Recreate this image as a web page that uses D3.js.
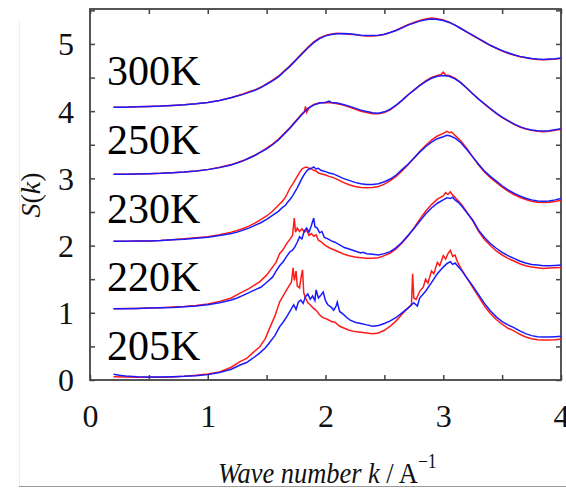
<!DOCTYPE html>
<html>
<head>
<meta charset="utf-8">
<script src="https://cdn.jsdelivr.net/npm/d3@7"></script>
<style>
    html, body { margin: 0; padding: 0; background: #fff; }
    svg { display: block; }
    svg text { font-family: "Liberation Serif", "Times New Roman", "DejaVu Serif", serif; }
    .tick text { font-size: 32px; fill: #111; }
    .tick line { stroke: #444; stroke-width: 1.5; }
</style>
</head>
<body>
<svg class="main" width="566" height="488"></svg>
<script>
const xTicks = [0, 0.5, 1, 1.5, 2, 2.5, 3, 3.5, 4],
    yTicks = [0, 0.5, 1, 1.5, 2, 2.5, 3, 3.5, 4, 4.5, 5, 5.5],
    temperatures = ['300K', '250K', '230K', '220K', '205K'];

// [k, S(k)] as plotted, each curve already shifted up by its offset
const s300Red = [[0.2,4.06],[0.3,4.06],[0.4,4.065],[0.5,4.07],[0.6,4.075],[0.7,4.085],[0.8,4.095],[0.9,4.11],[1.0,4.13],[1.1,4.16],[1.2,4.205],[1.3,4.255],[1.35,4.29],[1.4,4.315],[1.45,4.355],[1.5,4.405],[1.55,4.46],[1.6,4.52],[1.65,4.6],[1.7,4.68],[1.75,4.77],[1.8,4.86],[1.85,4.95],[1.9,5.03],[1.95,5.09],[2.0,5.125],[2.05,5.15],[2.1,5.16],[2.15,5.15],[2.2,5.145],[2.25,5.14],[2.3,5.125],[2.35,5.12],[2.4,5.12],[2.45,5.125],[2.5,5.14],[2.55,5.17],[2.6,5.205],[2.65,5.245],[2.7,5.285],[2.75,5.32],[2.8,5.35],[2.85,5.37],[2.9,5.385],[2.95,5.375],[3.0,5.355],[3.05,5.325],[3.1,5.28],[3.15,5.23],[3.2,5.175],[3.25,5.125],[3.3,5.075],[3.35,5.025],[3.4,4.975],[3.45,4.935],[3.5,4.895],[3.55,4.86],[3.6,4.835],[3.65,4.81],[3.7,4.795],[3.75,4.78],[3.8,4.77],[3.85,4.765],[3.9,4.77],[3.95,4.775],[4.0,4.785]];
const s300Blue = [[0.2,4.06],[0.3,4.06],[0.4,4.065],[0.5,4.07],[0.6,4.075],[0.7,4.085],[0.8,4.095],[0.9,4.11],[1.0,4.13],[1.1,4.16],[1.2,4.2],[1.3,4.25],[1.35,4.28],[1.4,4.31],[1.45,4.35],[1.5,4.4],[1.55,4.45],[1.6,4.51],[1.65,4.59],[1.7,4.67],[1.75,4.76],[1.8,4.85],[1.85,4.94],[1.9,5.02],[1.95,5.08],[2.0,5.12],[2.05,5.14],[2.1,5.15],[2.15,5.155],[2.2,5.15],[2.25,5.14],[2.3,5.13],[2.35,5.125],[2.4,5.125],[2.45,5.13],[2.5,5.145],[2.55,5.17],[2.6,5.2],[2.65,5.24],[2.7,5.28],[2.75,5.31],[2.8,5.34],[2.85,5.36],[2.9,5.37],[2.95,5.365],[3.0,5.35],[3.05,5.32],[3.1,5.28],[3.15,5.23],[3.2,5.18],[3.25,5.13],[3.3,5.08],[3.35,5.03],[3.4,4.98],[3.45,4.94],[3.5,4.9],[3.55,4.87],[3.6,4.84],[3.65,4.815],[3.7,4.8],[3.75,4.785],[3.8,4.775],[3.85,4.77],[3.9,4.775],[3.95,4.78],[4.0,4.79]];

const s250Red = [[0.2,3.06],[0.3,3.06],[0.4,3.065],[0.5,3.07],[0.6,3.075],[0.7,3.085],[0.8,3.095],[0.9,3.11],[1.0,3.13],[1.1,3.165],[1.2,3.205],[1.3,3.265],[1.35,3.305],[1.4,3.345],[1.45,3.395],[1.5,3.45],[1.55,3.51],[1.6,3.58],[1.65,3.67],[1.7,3.76],[1.75,3.86],[1.8,3.96],[1.82,3.99],[1.83,4.07],[1.84,3.98],[1.86,4.05],[1.9,4.1],[1.95,4.125],[2.0,4.13],[2.05,4.125],[2.1,4.11],[2.15,4.09],[2.2,4.06],[2.25,4.03],[2.3,4.0],[2.35,3.98],[2.4,3.96],[2.45,3.96],[2.5,3.98],[2.55,4.02],[2.6,4.085],[2.65,4.16],[2.7,4.24],[2.75,4.315],[2.8,4.385],[2.85,4.45],[2.9,4.5],[2.95,4.53],[2.98,4.545],[3.0,4.58],[3.02,4.54],[3.05,4.53],[3.1,4.49],[3.15,4.425],[3.2,4.345],[3.25,4.26],[3.3,4.18],[3.35,4.105],[3.4,4.035],[3.45,3.965],[3.5,3.905],[3.55,3.855],[3.6,3.805],[3.65,3.765],[3.7,3.735],[3.75,3.715],[3.8,3.7],[3.85,3.695],[3.9,3.7],[3.95,3.715],[4.0,3.73]];
const s250Blue = [[0.2,3.06],[0.3,3.06],[0.4,3.065],[0.5,3.07],[0.6,3.075],[0.7,3.085],[0.8,3.095],[0.9,3.11],[1.0,3.13],[1.1,3.16],[1.2,3.2],[1.3,3.26],[1.35,3.3],[1.4,3.34],[1.45,3.39],[1.5,3.44],[1.55,3.5],[1.6,3.57],[1.65,3.66],[1.7,3.75],[1.75,3.85],[1.8,3.95],[1.85,4.04],[1.9,4.09],[1.95,4.12],[2.0,4.13],[2.03,4.15],[2.05,4.13],[2.1,4.12],[2.15,4.1],[2.2,4.075],[2.25,4.045],[2.3,4.015],[2.35,3.995],[2.4,3.975],[2.45,3.97],[2.5,3.99],[2.55,4.03],[2.6,4.09],[2.65,4.16],[2.7,4.24],[2.75,4.31],[2.8,4.38],[2.85,4.44],[2.9,4.49],[2.95,4.52],[3.0,4.53],[3.05,4.52],[3.1,4.48],[3.15,4.42],[3.2,4.34],[3.25,4.26],[3.3,4.18],[3.35,4.11],[3.4,4.04],[3.45,3.97],[3.5,3.91],[3.55,3.86],[3.6,3.81],[3.65,3.77],[3.7,3.74],[3.75,3.72],[3.8,3.71],[3.85,3.705],[3.9,3.71],[3.95,3.725],[4.0,3.74]];

const s230Red = [[0.2,2.065],[0.3,2.065],[0.4,2.07],[0.5,2.07],[0.6,2.075],[0.7,2.085],[0.8,2.1],[0.9,2.115],[1.0,2.13],[1.1,2.16],[1.2,2.2],[1.25,2.225],[1.3,2.255],[1.35,2.29],[1.4,2.335],[1.45,2.385],[1.5,2.44],[1.55,2.51],[1.6,2.6],[1.63,2.65],[1.66,2.72],[1.68,2.79],[1.7,2.86],[1.72,2.91],[1.74,2.97],[1.76,3.03],[1.78,3.09],[1.8,3.14],[1.82,3.16],[1.84,3.17],[1.86,3.15],[1.88,3.14],[1.9,3.12],[1.92,3.11],[1.94,3.08],[1.96,3.07],[1.98,3.06],[2.0,3.05],[2.03,3.03],[2.06,3.015],[2.1,2.985],[2.15,2.94],[2.2,2.905],[2.25,2.88],[2.3,2.865],[2.35,2.86],[2.4,2.865],[2.45,2.88],[2.5,2.915],[2.55,2.965],[2.6,3.03],[2.65,3.11],[2.7,3.2],[2.75,3.3],[2.8,3.4],[2.85,3.49],[2.9,3.57],[2.95,3.63],[3.0,3.67],[3.03,3.7],[3.05,3.68],[3.07,3.69],[3.1,3.64],[3.15,3.555],[3.2,3.445],[3.25,3.32],[3.3,3.2],[3.35,3.095],[3.4,3.01],[3.45,2.94],[3.5,2.87],[3.55,2.81],[3.6,2.76],[3.65,2.72],[3.7,2.685],[3.75,2.66],[3.8,2.645],[3.85,2.64],[3.9,2.645],[3.95,2.655],[4.0,2.675]];
const s230Blue = [[0.2,2.065],[0.3,2.065],[0.4,2.07],[0.5,2.07],[0.6,2.075],[0.7,2.085],[0.8,2.095],[0.9,2.11],[1.0,2.125],[1.1,2.15],[1.2,2.18],[1.25,2.2],[1.3,2.23],[1.35,2.26],[1.4,2.3],[1.45,2.34],[1.5,2.39],[1.55,2.45],[1.6,2.51],[1.63,2.56],[1.66,2.6],[1.68,2.65],[1.7,2.69],[1.72,2.74],[1.74,2.8],[1.76,2.86],[1.78,2.93],[1.8,3.0],[1.82,3.06],[1.84,3.11],[1.86,3.14],[1.88,3.15],[1.9,3.17],[1.92,3.14],[1.94,3.15],[1.96,3.12],[1.98,3.11],[2.0,3.1],[2.03,3.08],[2.06,3.07],[2.1,3.04],[2.15,3.0],[2.2,2.97],[2.25,2.94],[2.3,2.92],[2.35,2.91],[2.4,2.91],[2.45,2.92],[2.5,2.95],[2.55,2.99],[2.6,3.05],[2.65,3.13],[2.7,3.21],[2.75,3.3],[2.8,3.39],[2.85,3.47],[2.9,3.54],[2.95,3.59],[3.0,3.62],[3.03,3.64],[3.06,3.63],[3.1,3.6],[3.15,3.53],[3.2,3.43],[3.25,3.32],[3.3,3.21],[3.35,3.11],[3.4,3.03],[3.45,2.96],[3.5,2.89],[3.55,2.83],[3.6,2.78],[3.65,2.74],[3.7,2.705],[3.75,2.68],[3.8,2.665],[3.85,2.66],[3.9,2.665],[3.95,2.68],[4.0,2.7]];

const s220Red = [[0.2,1.06],[0.3,1.065],[0.4,1.065],[0.5,1.07],[0.6,1.075],[0.7,1.085],[0.8,1.095],[0.9,1.11],[1.0,1.13],[1.1,1.17],[1.2,1.22],[1.27,1.29],[1.35,1.36],[1.44,1.46],[1.5,1.56],[1.55,1.68],[1.58,1.75],[1.61,1.88],[1.64,1.94],[1.67,2.03],[1.7,2.1],[1.72,2.15],[1.735,2.41],[1.745,2.2],[1.76,2.26],[1.78,2.21],[1.8,2.25],[1.82,2.2],[1.84,2.23],[1.86,2.15],[1.88,2.18],[1.9,2.14],[1.92,2.16],[1.94,2.08],[1.96,2.06],[1.98,2.03],[2.0,2.0],[2.04,1.96],[2.08,1.93],[2.12,1.9],[2.16,1.87],[2.2,1.85],[2.25,1.83],[2.3,1.82],[2.35,1.81],[2.4,1.81],[2.45,1.82],[2.5,1.85],[2.55,1.89],[2.6,1.95],[2.65,2.04],[2.7,2.14],[2.75,2.26],[2.8,2.39],[2.85,2.51],[2.9,2.61],[2.95,2.69],[3.0,2.74],[3.02,2.79],[3.04,2.76],[3.06,2.8],[3.08,2.75],[3.1,2.72],[3.13,2.66],[3.16,2.6],[3.2,2.5],[3.25,2.37],[3.3,2.21],[3.35,2.09],[3.4,2.0],[3.45,1.92],[3.5,1.86],[3.55,1.81],[3.6,1.77],[3.65,1.73],[3.7,1.7],[3.75,1.68],[3.8,1.67],[3.85,1.66],[3.9,1.665],[3.95,1.67],[4.0,1.675]];
const s220Blue = [[0.2,1.06],[0.3,1.06],[0.4,1.065],[0.5,1.07],[0.6,1.075],[0.7,1.08],[0.8,1.09],[0.9,1.1],[1.0,1.12],[1.1,1.15],[1.2,1.19],[1.25,1.22],[1.3,1.26],[1.35,1.3],[1.4,1.34],[1.45,1.38],[1.5,1.45],[1.55,1.53],[1.58,1.62],[1.61,1.7],[1.64,1.76],[1.67,1.84],[1.7,1.91],[1.72,1.93],[1.74,1.98],[1.76,2.05],[1.78,2.13],[1.8,2.1],[1.82,2.22],[1.84,2.26],[1.86,2.2],[1.88,2.3],[1.9,2.41],[1.91,2.28],[1.93,2.26],[1.95,2.19],[1.97,2.21],[1.99,2.12],[2.02,2.1],[2.05,2.07],[2.08,2.05],[2.12,2.01],[2.16,1.97],[2.2,1.95],[2.25,1.92],[2.3,1.89],[2.32,1.9],[2.35,1.88],[2.4,1.87],[2.45,1.86],[2.5,1.88],[2.55,1.91],[2.6,1.97],[2.65,2.05],[2.7,2.15],[2.75,2.25],[2.8,2.36],[2.85,2.47],[2.9,2.56],[2.95,2.63],[3.0,2.68],[3.03,2.71],[3.06,2.7],[3.08,2.72],[3.1,2.68],[3.13,2.64],[3.16,2.58],[3.2,2.49],[3.25,2.38],[3.3,2.23],[3.35,2.12],[3.4,2.03],[3.45,1.96],[3.5,1.9],[3.55,1.85],[3.6,1.81],[3.65,1.77],[3.7,1.74],[3.75,1.72],[3.8,1.71],[3.85,1.7],[3.9,1.7],[3.95,1.705],[4.0,1.71]];

const s205Red = [[0.2,0.05],[0.3,0.045],[0.4,0.04],[0.5,0.04],[0.6,0.04],[0.7,0.045],[0.8,0.055],[0.9,0.07],[1.0,0.09],[1.1,0.12],[1.2,0.19],[1.27,0.27],[1.33,0.32],[1.38,0.4],[1.44,0.49],[1.49,0.62],[1.53,0.79],[1.57,0.95],[1.61,1.16],[1.64,1.25],[1.67,1.34],[1.69,1.4],[1.71,1.45],[1.725,1.67],[1.735,1.48],[1.75,1.62],[1.76,1.4],[1.78,1.37],[1.79,1.5],[1.805,1.64],[1.815,1.3],[1.83,1.22],[1.85,1.15],[1.87,1.12],[1.89,1.08],[1.91,1.05],[1.93,1.02],[1.95,0.97],[1.97,0.94],[1.99,0.92],[2.02,0.9],[2.05,0.87],[2.08,0.86],[2.12,0.8],[2.16,0.77],[2.2,0.74],[2.25,0.72],[2.3,0.71],[2.35,0.7],[2.4,0.69],[2.45,0.7],[2.5,0.74],[2.55,0.8],[2.6,0.88],[2.65,0.98],[2.7,1.07],[2.73,1.12],[2.74,1.58],[2.75,1.22],[2.77,1.2],[2.8,1.32],[2.83,1.38],[2.85,1.5],[2.87,1.44],[2.9,1.62],[2.92,1.58],[2.95,1.75],[2.97,1.7],[3.0,1.85],[3.02,1.8],[3.04,1.88],[3.06,1.93],[3.08,1.84],[3.1,1.86],[3.12,1.76],[3.15,1.66],[3.2,1.52],[3.25,1.38],[3.3,1.24],[3.35,1.1],[3.4,0.99],[3.45,0.9],[3.5,0.83],[3.55,0.77],[3.6,0.73],[3.65,0.68],[3.7,0.64],[3.75,0.615],[3.8,0.6],[3.85,0.595],[3.9,0.595],[3.95,0.6],[4.0,0.61]];
const s205Blue = [[0.2,0.085],[0.25,0.07],[0.3,0.06],[0.4,0.05],[0.5,0.045],[0.6,0.045],[0.7,0.05],[0.8,0.055],[0.9,0.065],[1.0,0.08],[1.1,0.11],[1.2,0.16],[1.27,0.22],[1.33,0.26],[1.38,0.32],[1.44,0.4],[1.49,0.48],[1.53,0.57],[1.57,0.66],[1.61,0.79],[1.64,0.86],[1.67,0.94],[1.69,1.0],[1.71,1.06],[1.73,1.12],[1.75,1.05],[1.77,1.16],[1.79,1.19],[1.81,1.14],[1.83,1.24],[1.85,1.28],[1.87,1.2],[1.89,1.25],[1.91,1.18],[1.92,1.34],[1.94,1.22],[1.96,1.26],[1.98,1.31],[2.0,1.18],[2.02,1.12],[2.05,1.08],[2.07,1.04],[2.09,1.1],[2.1,1.16],[2.12,1.02],[2.15,0.98],[2.18,0.93],[2.21,0.89],[2.25,0.86],[2.3,0.84],[2.35,0.82],[2.4,0.8],[2.45,0.81],[2.5,0.84],[2.55,0.88],[2.6,0.93],[2.65,1.0],[2.7,1.07],[2.75,1.15],[2.78,1.1],[2.8,1.22],[2.85,1.32],[2.9,1.45],[2.95,1.58],[3.0,1.68],[3.03,1.73],[3.06,1.76],[3.08,1.72],[3.1,1.74],[3.13,1.68],[3.16,1.62],[3.2,1.52],[3.25,1.4],[3.3,1.27],[3.35,1.14],[3.4,1.03],[3.45,0.94],[3.5,0.87],[3.55,0.82],[3.6,0.78],[3.65,0.73],[3.7,0.69],[3.75,0.66],[3.8,0.645],[3.85,0.64],[3.9,0.64],[3.95,0.645],[4.0,0.65]];

const svg = d3.select('svg.main'),
    plot = { left: 90, right: 561, top: 9, bottom: 380 },
    x = d3.scaleLinear().domain([0, 4]).range([plot.left, plot.right]),
    y = d3.scaleLinear().domain([0, 5.52]).range([plot.bottom, plot.top]),
    line = d3.line().x(d => x(d[0])).y(d => y(d[1])),
    intLabel = d => Number.isInteger(d) ? d : '',
    tickLen = 5;

// faint scan border around the figure
svg.append('line')
    .attr('x1', 19.5).attr('x2', 19.5).attr('y1', 20).attr('y2', 487)
    .attr('stroke', '#eee');
svg.append('line')
    .attr('x1', 19).attr('x2', 566).attr('y1', 486.5).attr('y2', 486.5)
    .attr('stroke', '#999');

function drawAxis(axis, tx, ty, cls) {
    const g = svg.append('g')
        .attr('class', cls)
        .attr('transform', 'translate(' + tx + ',' + ty + ')')
        .call(axis);
    g.select('.domain').remove();
    g.attr('font-family', null).attr('font-size', null);
    return g;
}

const bottom = drawAxis(d3.axisBottom(x).tickValues(xTicks).tickFormat(intLabel)
    .tickSize(-tickLen).tickPadding(0), 0, plot.bottom, 'x-bottom');
bottom.selectAll('text').attr('y', 47).attr('dy', '0em');

drawAxis(d3.axisTop(x).tickValues(xTicks).tickFormat('')
    .tickSize(-tickLen), 0, plot.top, 'x-top');

const left = drawAxis(d3.axisLeft(y).tickValues(yTicks).tickFormat(intLabel)
    .tickSize(-tickLen).tickPadding(0), plot.left, 0, 'y-left');
left.selectAll('text').attr('x', -16).attr('dy', '0.34em');

drawAxis(d3.axisRight(y).tickValues(yTicks).tickFormat('')
    .tickSize(-tickLen), plot.right, 0, 'y-right');

svg.append('rect')
    .attr('x', plot.left)
    .attr('y', plot.top)
    .attr('width', plot.right - plot.left)
    .attr('height', plot.bottom - plot.top)
    .attr('fill', 'none')
    .attr('stroke', '#444')
    .attr('stroke-width', 1.8);

const curves = [
    [s300Red, s300Blue],
    [s250Red, s250Blue],
    [s230Red, s230Blue],
    [s220Red, s220Blue],
    [s205Red, s205Blue]
];

const lines = svg.append('g').attr('class', 'curves');
curves.forEach(pair => {
    lines.append('path')
        .attr('d', line(pair[0]))
        .attr('fill', 'none')
        .attr('stroke', '#ff1a1a')
        .attr('stroke-width', 1.5);
    lines.append('path')
        .attr('d', line(pair[1]))
        .attr('fill', 'none')
        .attr('stroke', '#1a1aff')
        .attr('stroke-width', 1.5);
});

// temperature labels sit just above each baseline
svg.append('g').selectAll('text')
    .data(temperatures)
    .join('text')
    .attr('x', 107)
    .attr('y', (d, i) => 85 + i * 68.75)
    .attr('font-size', 42)
    .attr('fill', '#000')
    .text(d => d);

// the scanned label is set in a narrow face, so squeeze it sideways
const xLabel = svg.append('text')
    .attr('transform', 'translate(218,483) scale(0.88,1)')
    .attr('font-size', 30)
    .attr('fill', '#111');
xLabel.append('tspan').attr('font-style', 'italic').text('Wave number k');
xLabel.append('tspan').text(' / A');
xLabel.append('tspan').attr('font-size', 20).attr('dy', -15).text('\u22121');

const yLabel = svg.append('text')
    .attr('transform', 'translate(40,195) rotate(-90)')
    .attr('text-anchor', 'middle')
    .attr('font-size', 28)
    .attr('fill', '#111');
yLabel.append('tspan').attr('font-style', 'italic').text('S');
yLabel.append('tspan').text('(');
yLabel.append('tspan').attr('font-style', 'italic').text('k');
yLabel.append('tspan').text(')');
</script>
</body>
</html>
